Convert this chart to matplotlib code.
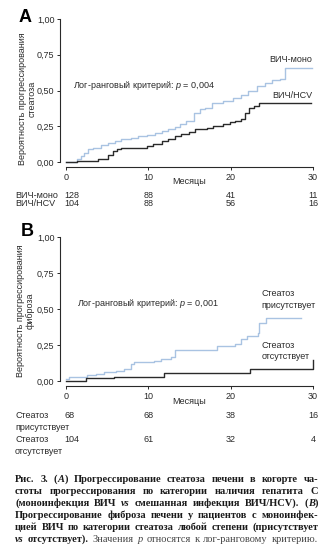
import matplotlib.pyplot as plt
from matplotlib.transforms import blended_transform_factory

plt.rcParams['font.family'] = ['Liberation Sans', 'DejaVu Sans']
plt.rcParams['mathtext.fontset'] = 'custom'
plt.rcParams['mathtext.it'] = 'Liberation Sans:italic'
plt.rcParams['mathtext.rm'] = 'Liberation Sans'

BLUE = '#a9c3e2'
DARK = '#2a2a2a'
FS = 6.5

# panel A: steatosis progression, HIV mono vs HIV/HCV
a_mono_t = [0, 1.3, 1.8, 2.2, 2.7, 3.3, 4.3, 5.1, 5.9, 6.7, 7.9, 8.7, 9.8, 10.8,
            11.6, 12.4, 13.2, 13.8, 14.6, 15.5, 16.3, 16.9, 17.7, 19.1, 20.3,
            21.3, 22.1, 23.2, 24.2, 25.0, 26.0, 26.6, 29.9]
a_mono_p = [0, 0.02, 0.04, 0.06, 0.09, 0.10, 0.12, 0.13, 0.145, 0.16, 0.17, 0.18,
            0.19, 0.20, 0.215, 0.23, 0.245, 0.265, 0.29, 0.345, 0.37, 0.38, 0.41,
            0.43, 0.445, 0.47, 0.50, 0.53, 0.55, 0.575, 0.58, 0.66, 0.66]
a_hcv_t = [0, 1.3, 3.9, 5.1, 5.7, 6.2, 6.7, 9.8, 10.6, 11.6, 12.4, 13.2, 14.0,
           14.9, 15.7, 17.1, 17.9, 19.1, 19.9, 20.5, 21.3, 21.8, 22.2, 22.8,
           23.4, 29.7]
a_hcv_p = [0, 0.01, 0.02, 0.05, 0.075, 0.09, 0.10, 0.11, 0.125, 0.145, 0.16,
           0.185, 0.195, 0.21, 0.23, 0.24, 0.25, 0.265, 0.28, 0.285, 0.30, 0.34,
           0.38, 0.39, 0.41, 0.41]
a_rows = [['ВИЧ-моно'], ['ВИЧ/HCV']]
a_risk = [[128, 88, 41, 11], [104, 88, 56, 16]]

# panel B: fibrosis progression, steatosis present vs absent
b_yes_t = [0, 0.4, 2.6, 3.6, 4.6, 6.1, 7.1, 7.9, 8.3, 10.7, 11.5, 12.8, 13.2,
           18.3, 20.5, 21.3, 22.0, 23.3, 23.5, 24.3, 28.6]
b_yes_p = [0.015, 0.025, 0.04, 0.05, 0.06, 0.07, 0.08, 0.12, 0.13, 0.14, 0.155,
           0.17, 0.215, 0.24, 0.26, 0.29, 0.31, 0.33, 0.40, 0.44, 0.44]
b_no_t = [0, 2.4, 5.8, 11.9, 22.3, 30.0, 30.0]
b_no_p = [0, 0.02, 0.03, 0.055, 0.08, 0.08, 0.145]
b_rows = [['Стеатоз', 'присутствует'], ['Стеатоз', 'отсутствует']]
b_risk = [[68, 68, 38, 16], [104, 61, 32, 4]]

months = [0, 10, 20, 30]
yticks = [0, 0.25, 0.5, 0.75, 1.0]
ylabels = ['0,00', '0,25', '0,50', '0,75', '1,00']

W, H = 336, 550
fig = plt.figure(figsize=(W / 100, H / 100), dpi=100)


def fx(px):
    return px / W


def fy(py):
    return 1 - py / H


def setup(ax):
    ax.set_xlim(0, 30)
    ax.set_ylim(0, 1)
    for s in ['top', 'right']:
        ax.spines[s].set_visible(False)
    ax.spines['left'].set_position(('outward', 4.3))
    ax.spines['bottom'].set_position(('outward', 3.6))
    for s in ['left', 'bottom']:
        ax.spines[s].set_linewidth(0.8)
        ax.spines[s].set_color(DARK)
    ax.set_xticks(months)
    ax.set_xticklabels([str(m) for m in months])
    ax.set_yticks(yticks)
    ax.set_yticklabels(ylabels)
    ax.tick_params(labelsize=FS, length=2.5, width=0.7, pad=1.5, colors=DARK)


def risk_table(ax, rows, risk, ys):
    tr = blended_transform_factory(ax.transData, fig.transFigure)
    for name, vals, y in zip(rows, risk, ys):
        for k, part in enumerate(name):
            fig.text(fx(15), fy(y + 11 * k), part, fontsize=FS, color=DARK,
                     va='center', ha='left')
        for m, v in zip(months, vals):
            ha = 'left' if m == 0 else 'center'
            xx = -0.2 if m == 0 else m
            ax.text(xx, fy(y), str(v), transform=tr, fontsize=FS, color=DARK,
                    ha=ha, va='center')


# ---- panel A
axA = fig.add_axes([fx(66), fy(162), fx(313) - fx(66), fy(19) - fy(162)])
setup(axA)
axA.step(a_mono_t, a_mono_p, where='post', color=BLUE, lw=1.0, clip_on=False)
axA.step(a_hcv_t, a_hcv_p, where='post', color=DARK, lw=1.0, clip_on=False)
axA.text(0.9, 0.535, 'Лог-ранговый критерий: $p$ = 0,004', fontsize=FS,
         color=DARK, va='center')
axA.text(29.9, 0.72, 'ВИЧ-моно', fontsize=FS, color=DARK, ha='right', va='center')
axA.text(29.9, 0.465, 'ВИЧ/HCV', fontsize=FS, color=DARK, ha='right', va='center')
axA.text(15, fy(182), 'Месяцы', transform=blended_transform_factory(axA.transData, fig.transFigure),
         fontsize=FS, color=DARK, ha='center', va='center')
fig.text(fx(25), fy(17), 'A', fontsize=13, weight='bold', ha='center', va='center')
fig.text(fx(27.5), fy(99), 'Вероятность прогрессирования\nстеатоза', rotation=90,
         fontsize=FS, color=DARK, ha='center', va='center', multialignment='center',
         linespacing=1.05)
risk_table(axA, a_rows, a_risk, [195, 204])

# ---- panel B
axB = fig.add_axes([fx(66), fy(381), fx(313) - fx(66), fy(237) - fy(381)])
setup(axB)
axB.step(b_yes_t, b_yes_p, where='post', color=BLUE, lw=1.0, clip_on=False)
axB.step(b_no_t, b_no_p, where='post', color=DARK, lw=1.0, clip_on=False)
axB.text(1.3, 0.54, 'Лог-ранговый критерий: $p$ = 0,001', fontsize=FS,
         color=DARK, va='center')
axB.text(23.7, 0.565, 'Стеатоз\nприсутствует', fontsize=FS, color=DARK,
         ha='left', va='center', linespacing=1.35)
axB.text(23.7, 0.21, 'Стеатоз\nотсутствует', fontsize=FS, color=DARK,
         ha='left', va='center', linespacing=1.35)
axB.text(15, fy(402), 'Месяцы', transform=blended_transform_factory(axB.transData, fig.transFigure),
         fontsize=FS, color=DARK, ha='center', va='center')
fig.text(fx(27), fy(232), 'B', fontsize=13, weight='bold', ha='center', va='center')
fig.text(fx(25), fy(311), 'Вероятность прогрессирования\nфиброза', rotation=90,
         fontsize=FS, color=DARK, ha='center', va='center', multialignment='center',
         linespacing=1.05)
risk_table(axB, b_rows, b_risk, [416, 440])

# ---- caption (justified, mixed bold / italic)
caption = [
    'Рис. 3. (*A*) Прогрессирование стеатоза печени в когорте ча-',
    'стоты прогрессирования по категории наличия гепатита С',
    '(моноинфекция ВИЧ *vs* смешанная инфекция ВИЧ/HCV). (*B*)',
    'Прогрессирование фиброза печени у пациентов с моноинфек-',
    'цией ВИЧ по категории стеатоза любой степени (присутствует',
    '*vs* отсутствует). |Значения *p* относятся к лог-ранговому критерию.',
]
cap_y = [479, 491, 503, 515, 527, 539]
x0, x1 = 15, 318
renderer = fig.canvas.get_renderer()
bold = True
for line, ypx in zip(caption, cap_y):
    words = []
    italic = False
    for word in line.split(' '):
        pieces = []
        buf = ''
        for ch in word:
            if ch in '*|':
                if buf:
                    pieces.append((buf, bold, italic))
                    buf = ''
                if ch == '*':
                    italic = not italic
                else:
                    bold = not bold
            else:
                buf += ch
        if buf:
            pieces.append((buf, bold, italic))
        if pieces:
            words.append(pieces)
    objs = []
    total = 0
    for pieces in words:
        wobjs = []
        for txt, b, it in pieces:
            t = fig.text(0, fy(ypx), txt, fontsize=7.5, family='Liberation Serif',
                         weight='bold' if b else 'normal',
                         style='italic' if it else 'normal',
                         color='#1a1a1a' if b else '#444444', va='center', ha='left')
            w = t.get_window_extent(renderer).width
            wobjs.append((t, w))
            total += w
        objs.append(wobjs)
    gap = max((x1 - x0 - total) / max(len(objs) - 1, 1), 2.0)
    x = x0
    for wobjs in objs:
        for t, w in wobjs:
            t.set_x(fx(x))
            x += w
        x += gap

fig.savefig('out.png', dpi=100)
